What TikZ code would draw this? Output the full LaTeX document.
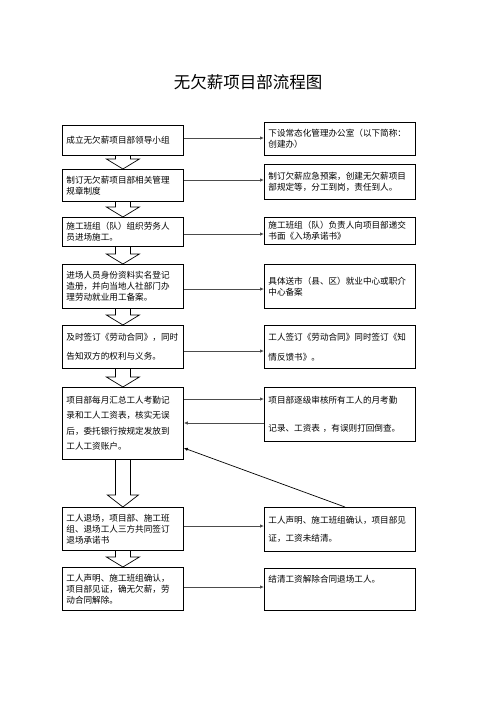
\documentclass[tikz,border=0pt]{standalone}
\usepackage{fontspec}
\setmainfont{Noto Sans CJK SC}
\usetikzlibrary{calc,arrows.meta}
\newcommand\blkarrow[4]{%
 \draw[barrow] ($(#1.south)+(-7.5,0)$) -- ($(#2.north)+(-7.5,-#4)$) -- ($(#2.north)+(-#3,-#4)$) -- (#2.north) -- ($(#2.north)+(#3,-#4)$) -- ($(#2.north)+(7.5,-#4)$) -- ($(#1.south)+(7.5,0)$);}
\begin{document}
\begin{tikzpicture}[x=1pt,y=-1pt,
 box/.style={draw=black, line width=0.8pt, anchor=north west, inner xsep=4pt, inner ysep=0pt, align=left, font=\fontsize{8.6}{11}\selectfont},
 lbox/.style={box, text width=113pt},
 rbox/.style={box, text width=143pt},
 conn/.style={draw=black!70, line width=0.9pt, -{Latex[length=4pt,width=3.5pt]}},
 diag/.style={draw=black, line width=0.7pt, -{Latex[length=4pt,width=3.5pt]}},
 barrow/.style={draw=black, line width=0.7pt}]
\useasboundingbox (0,0) rectangle (496,702);
\fill[white] (0,0) rectangle (496,702);

\node[font=\fontsize{16.5}{20}\selectfont] (title) at (248,82) {无欠薪项目部流程图};

% left column
\node[lbox, minimum height=30pt] (L1) at (62,125) {成立无欠薪项目部领导小组};
\node[lbox, minimum height=32pt] (L2) at (62,169) {制订无欠薪项目部相关管理\\规章制度};
\node[lbox, minimum height=29pt] (L3) at (62,217) {施工班组（队）组织劳务人\\员进场施工。};
\node[lbox, minimum height=44pt] (L4) at (62,264) {进场人员身份资料实名登记\\造册，并向当地人社部门办\\理劳动就业用工备案。};
\node[lbox, minimum height=43pt] (L5) at (62,325) {及时签订《劳动合同》，同时\\[8pt]告知双方的权利与义务。};
\node[lbox, minimum height=72pt] (L6) at (62,387) {项目部每月汇总工人考勤记\\[4.5pt]录和工人工资表，核实无误\\[4.5pt]后，委托银行按规定发放到\\[4.5pt]工人工资账户。};
\node[lbox, minimum height=43pt] (L7) at (62,507) {工人退场，项目部、施工班\\组、退场工人三方共同签订\\退场承诺书};
\node[lbox, minimum height=43pt] (L8) at (62,567) {工人声明、施工班组确认，\\项目部见证，确无欠薪，劳\\动合同解除。};

% right column
\node[rbox, minimum height=33pt] (R1) at (264,122) {下设常态化管理办公室（以下简称：\\创建办）};
\node[rbox, minimum height=35pt] (R2) at (264,164) {制订欠薪应急预案，创建无欠薪项目\\部规定等，分工到岗，责任到人。};
\node[rbox, minimum height=27pt] (R3) at (264,217) {施工班组（队）负责人向项目部递交\\书面《入场承诺书》};
\node[rbox, minimum height=44pt] (R4) at (264,264) {具体送市（县、区）就业中心或职介\\中心备案};
\node[rbox, minimum height=43pt] (R5) at (264,325) {工人签订《劳动合同》同时签订《知\\[9pt]情反馈书》。};
\node[rbox, minimum height=54pt] (R6) at (264,387) {项目部逐级审核所有工人的月考勤\\[17pt]记录、工资表 ，有误则打回倒查。};
\node[rbox, minimum height=44pt] (R7) at (264,507) {工人声明、施工班组确认，项目部见\\[7pt]证，工资未结清。};
\node[rbox, minimum height=42pt] (R8) at (264,568) {结清工资解除合同退场工人。\\[10pt]\mbox{}};

% block arrows
\blkarrow{L1}{L2}{16.5}{10}
\blkarrow{L2}{L3}{16.5}{10}
\blkarrow{L3}{L4}{16.5}{10}
\blkarrow{L4}{L5}{16.5}{10}
\blkarrow{L5}{L6}{16.5}{10}
\blkarrow{L6}{L7}{15.5}{12}
\blkarrow{L7}{L8}{16.5}{10}

% horizontal connectors
\draw[conn] ($(L1.north east)+(0,13)$) coordinate (c1) -- (c1 -| R1.west);
\draw[conn] ($(L2.north east)+(0,11)$) coordinate (c2) -- (c2 -| R2.west);
\draw[conn] ($(L3.north east)+(0,17)$) coordinate (c3) -- (c3 -| R3.west);
\draw[conn] ($(L4.north east)+(0,25)$) coordinate (c4) -- (c4 -| R4.west);
\draw[conn] ($(L5.north east)+(0,26)$) coordinate (c5) -- (c5 -| R5.west);
\draw[conn] ($(L6.north east)+(0,12)$) coordinate (c6) -- (c6 -| R6.west);
\draw[conn] ($(R6.north west)+(0,36)$) coordinate (r6) -- (r6 -| L6.east);
\draw[conn] ($(L7.north east)+(0,19)$) coordinate (c7) -- (c7 -| R7.west);
\draw[conn] ($(L8.north east)+(0,20)$) coordinate (c8) -- (c8 -| R8.west);
\draw[diag] ($(R7.north west)+(81,0)$) -- ($(L6.north east)+(0,61)$);
\end{tikzpicture}
\end{document}
